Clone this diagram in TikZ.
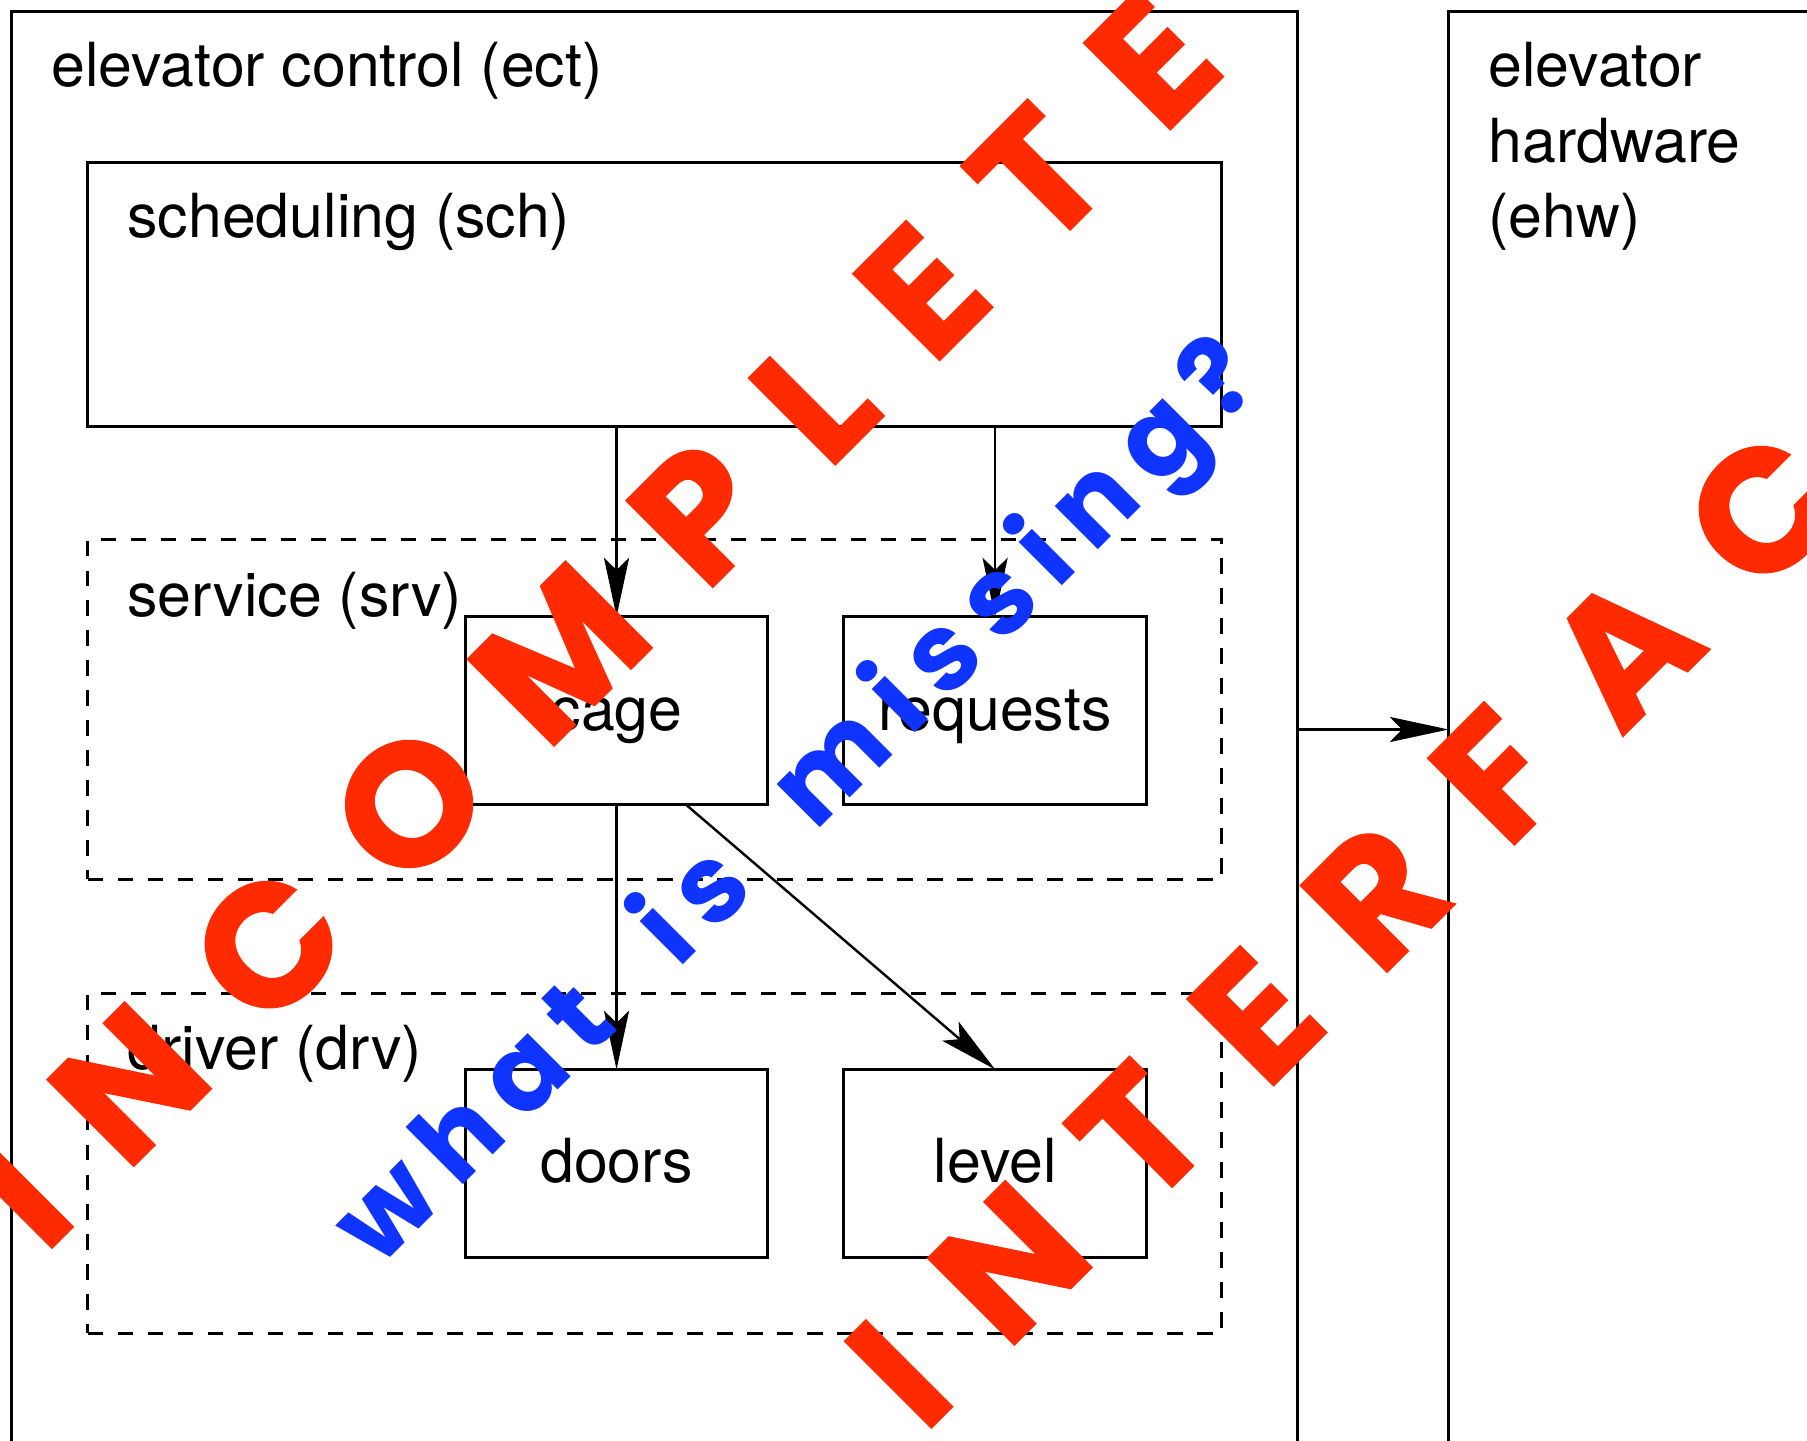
\documentclass[tikz,border=0pt]{standalone}
\usepackage{fontspec}
\setmainfont{TeX Gyre Heros}
\newfontfamily\redstampA{Poppins}[LetterSpace=37, FakeBold=1]
\newfontfamily\redstampB{Poppins}[LetterSpace=38, FakeBold=1]
\newfontfamily\bluestamp{Poppins}[LetterSpace=16.5, WordSpace=2.0]
\usetikzlibrary{arrows.meta,calc}
\definecolor{stampred}{RGB}{255,42,0}
\definecolor{stampblue}{RGB}{16,52,255}
\tikzset{
  box/.style={draw, line width=0.6pt, rectangle, inner sep=0pt, outer sep=0pt, anchor=north west},
  layer/.style={box, dashed, dash pattern=on 3.8pt off 3.6pt},
  lbl/.style={inner sep=0pt, font=\fontsize{15}{18.6}\selectfont},
  arr/.style={line width=0.6pt, -{Stealth[length=14.5pt, width=6.2pt, inset=3pt]}},
  redmark/.style={inner sep=0pt, anchor=base west, rotate=45, text=stampred},
  bluemark/.style={inner sep=0pt, anchor=base west, rotate=45, text=stampblue,
    font=\bluestamp\bfseries\fontsize{27}{27}\selectfont}
}
\begin{document}
\begin{tikzpicture}[x=0.01cm, y=-0.01cm]
  \useasboundingbox (0,0) rectangle (1568,1250);
  \clip (0,0) rectangle (1568,1250);
  \fill[white] (0,0) rectangle (1568,1250);

  % outer subsystems
  \node[box, minimum width=1116*0.01cm, minimum height=1300*0.01cm] (ect) at (10,10) {};
  \node[box, minimum width=500*0.01cm, minimum height=1300*0.01cm] (ehw) at (1257,10) {};
  \node[lbl, anchor=base west] (ectlbl) at (44,75) {elevator control (ect)};
  % the base anchor of a multi-line node sits on its last line
  \node[lbl, anchor=base west, align=left] (ehwlbl) at (1291,206) {elevator\\hardware\\(ehw)};

  % layers inside the controller
  \node[box, minimum width=984*0.01cm, minimum height=229*0.01cm] (sch) at (76,141) {};
  \node[layer, minimum width=984*0.01cm, minimum height=295*0.01cm] (srv) at (76,468) {};
  \node[layer, minimum width=984*0.01cm, minimum height=295*0.01cm] (drv) at (76,862) {};
  \node[lbl, anchor=base west] (schlbl) at (110,206) {scheduling (sch)};
  \node[lbl, anchor=base west] (srvlbl) at (110,535) {service (srv)};
  \node[lbl, anchor=base west] (drvlbl) at (110,928) {driver (drv)};

  % modules
  \node[box, minimum width=262*0.01cm, minimum height=163*0.01cm] (cage) at (404,535) {};
  \node[box, minimum width=263*0.01cm, minimum height=163*0.01cm] (requests) at (732,535) {};
  \node[box, minimum width=262*0.01cm, minimum height=163*0.01cm] (doors) at (404,928) {};
  \node[box, minimum width=263*0.01cm, minimum height=163*0.01cm] (level) at (732,928) {};
  \foreach \m in {cage,requests,doors,level}
    \node[lbl, anchor=base] (\m lbl) at ($(\m.center)+(0,17)$) {\m};

  % dependencies
  \draw[arr] (cage.north |- sch.south) -- (cage.north);
  \draw[arr] (requests.north |- sch.south) -- (requests.north);
  \draw[arr] (cage.south) -- (doors.north);
  \coordinate (cageout) at ($(cage.south)+(60,0)$);
  \draw[arr] (cageout) -- (level.north);
  \coordinate (hwlink) at (0,633);
  \draw[arr] (ect.east |- hwlink) -- (ehw.west |- hwlink);

  % stamps
  \node[redmark, font=\redstampA\bfseries\fontsize{43}{43}\selectfont] (incomplete) at (38,1090) {INCOMPLETE};
  \node[redmark, font=\redstampB\bfseries\fontsize{43}{43}\selectfont] (interface) at (801,1246) {INTERFACE};
  \node[bluemark] (missing) at (328,1102) {what is missing?};
\end{tikzpicture}
\end{document}
